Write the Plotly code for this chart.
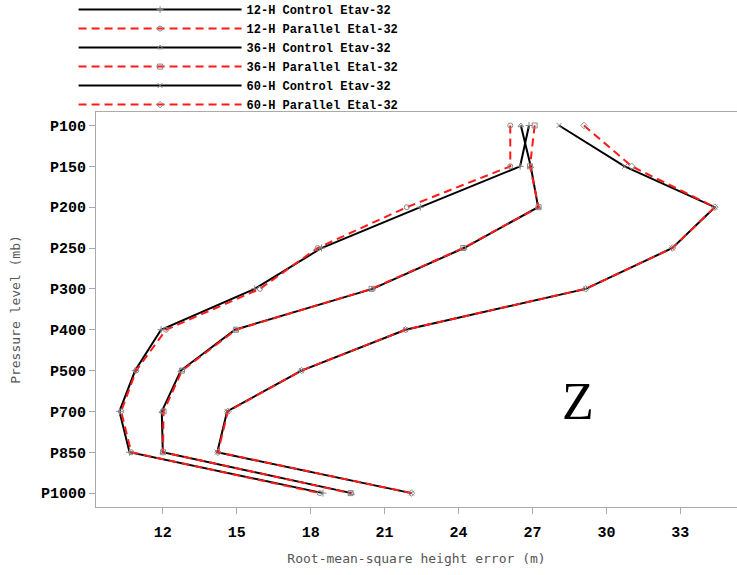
import plotly.graph_objects as go

levels = ["P100", "P150", "P200", "P250", "P300", "P400", "P500", "P700", "P850", "P1000"]

ctl_12h = [26.86, 26.50, 22.45, 18.44, 15.73, 11.93, 10.88, 10.24, 10.65, 18.50]
par_12h = [26.10, 26.10, 21.90, 18.28, 15.94, 12.13, 10.92, 10.31, 10.72, 18.37]
ctl_36h = [26.53, 26.93, 27.23, 24.22, 20.51, 14.93, 12.73, 11.96, 12.00, 19.66]
par_36h = [27.09, 26.90, 27.25, 24.19, 20.47, 14.97, 12.78, 12.03, 12.01, 19.62]
ctl_60h = [28.08, 30.74, 34.40, 32.68, 29.16, 21.85, 17.63, 14.61, 14.21, 22.09]
par_60h = [29.09, 31.03, 34.40, 32.68, 29.16, 21.85, 17.63, 14.64, 14.24, 22.09]

names = ["12-H Control Etav-32", "12-H Parallel Etal-32",
         "36-H Control Etav-32", "36-H Parallel Etal-32",
         "60-H Control Etav-32", "60-H Parallel Etal-32"]
series = [ctl_12h, par_12h, ctl_36h, par_36h, ctl_60h, par_60h]
symbols = ["cross-thin-open", "circle-open", "triangle-up-open",
           "square-open", "x-thin-open", "diamond-open"]

fig = go.Figure()
for i, (nm, vals, sym) in enumerate(zip(names, series, symbols)):
    control = (i % 2 == 0)
    fig.add_trace(go.Scatter(
        x=vals, y=levels, name=nm, mode="lines+markers",
        line=dict(color="black" if control else "#ff1a1a", width=2,
                  dash="solid" if control else "8px,5px"),
        marker=dict(symbol=sym, size=5, color="#888888",
                    line=dict(color="#888888", width=1)),
    ))

mono = "Liberation Mono, Courier New, monospace"

fig.update_layout(
    width=737, height=575,
    margin=dict(l=96, r=0, t=112, b=68, autoexpand=False),
    paper_bgcolor="white", plot_bgcolor="white",
    showlegend=True,
    legend=dict(x=-0.035, y=1.296, xanchor="left", yanchor="top",
                font=dict(family=mono, size=12, color="black", weight="bold"),
                itemwidth=163, bgcolor="rgba(0,0,0,0)", tracegroupgap=0),
    xaxis=dict(range=[9.29, 35.3], tickvals=[12, 15, 18, 21, 24, 27, 30, 33],
               showgrid=False, zeroline=False, showline=True, linecolor="#aaaaaa",
               linewidth=1, mirror=True, ticks="outside", ticklen=6, tickcolor="#aaaaaa",
               tickfont=dict(family=mono, size=15, color="black", weight="bold"),
               ticklabelstandoff=5,
               title=dict(text="Root-mean-square height error (m)", standoff=12,
                          font=dict(family="DejaVu Sans Mono", size=13, color="#555555"))),
    yaxis=dict(type="category", categoryorder="array", categoryarray=levels,
               range=[9.34, -0.33], showgrid=False, zeroline=False, showline=True,
               linecolor="#aaaaaa", linewidth=1, ticks="outside", ticklen=6,
               tickcolor="#aaaaaa",
               tickfont=dict(family=mono, size=15, color="black", weight="bold"),
               title=dict(text="Pressure level (mb)", standoff=17,
                          font=dict(family="DejaVu Sans Mono", size=13, color="#555555"))),
)

fig.add_annotation(text="Z", xref="paper", yref="paper", x=0.78, y=0.19,
                   showarrow=False, font=dict(family="Liberation Serif", size=52, color="black"))

fig.write_html("out.html")
